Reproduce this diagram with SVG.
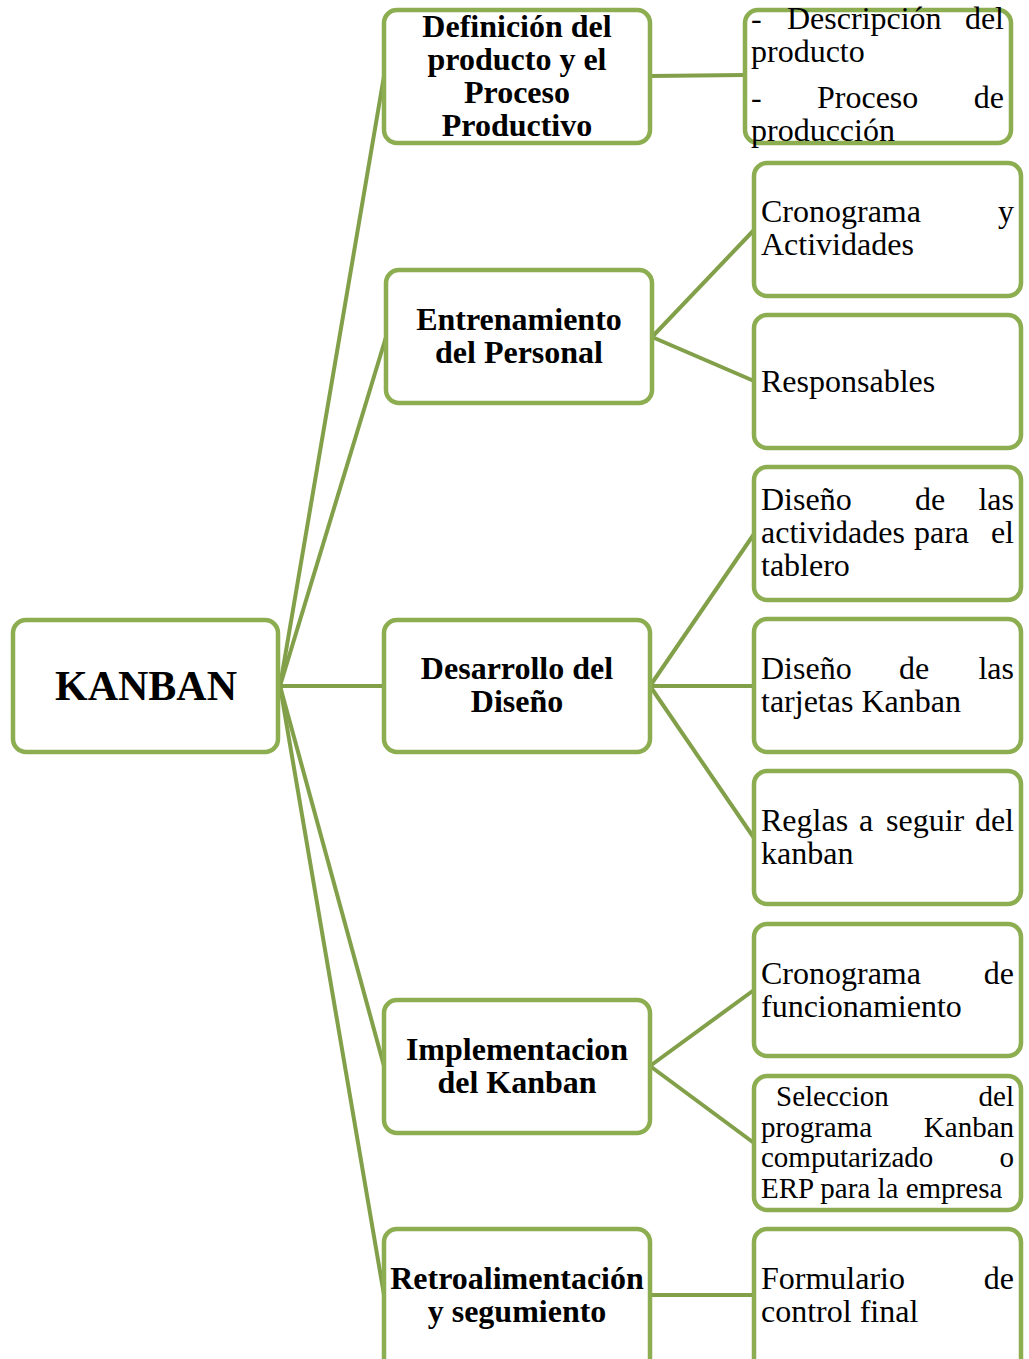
<svg xmlns="http://www.w3.org/2000/svg" width="1029" height="1359" viewBox="0 0 1029 1359">
  <style>
    .box { fill: #ffffff; stroke: #8DAD51; stroke-width: 4.5; }
    .link { stroke: #82A049; stroke-width: 4; fill: none; }
    .hd { font-family: "Liberation Serif", "Times New Roman", serif; font-weight: bold; font-size: 32px; fill: #000; text-anchor: middle; }
    .tx { font-family: "Liberation Serif", "Times New Roman", serif; font-size: 32px; fill: #000; }
    .sm { font-size: 29px; }
    .r { text-anchor: end; }
  </style>
  <rect width="1029" height="1359" fill="#ffffff"/>

  <!-- connectors -->
  <g id="connectors">
    <line class="link" x1="280" y1="686" x2="384" y2="76"/>
    <line class="link" x1="280" y1="686" x2="386" y2="337"/>
    <line class="link" x1="280" y1="686" x2="384" y2="686"/>
    <line class="link" x1="280" y1="686" x2="384" y2="1066"/>
    <line class="link" x1="280" y1="686" x2="384" y2="1295"/>
    <line class="link" x1="650" y1="76" x2="745" y2="75"/>
    <line class="link" x1="652" y1="337" x2="754" y2="230"/>
    <line class="link" x1="652" y1="337" x2="754" y2="381"/>
    <line class="link" x1="650" y1="686" x2="754" y2="534"/>
    <line class="link" x1="650" y1="686" x2="754" y2="686"/>
    <line class="link" x1="650" y1="686" x2="754" y2="838"/>
    <line class="link" x1="650" y1="1066" x2="754" y2="990"/>
    <line class="link" x1="650" y1="1066" x2="754" y2="1143"/>
    <line class="link" x1="650" y1="1295" x2="754" y2="1295"/>
  </g>

  <!-- root -->
  <g id="kanban">
    <rect class="box" x="13" y="620" width="265" height="132" rx="13"/>
    <text x="146" y="700" style="font-family:'Liberation Serif','Times New Roman',serif;font-weight:bold;font-size:42px;text-anchor:middle">KANBAN</text>
  </g>

  <!-- second level -->
  <g id="definicion">
    <rect class="box" x="384" y="10" width="266" height="133" rx="13"/>
    <text class="hd" x="517" y="37">Definición del</text>
    <text class="hd" x="517" y="70">producto y el</text>
    <text class="hd" x="517" y="103">Proceso</text>
    <text class="hd" x="517" y="136">Productivo</text>
  </g>
  <g id="entrenamiento">
    <rect class="box" x="386" y="270" width="266" height="133" rx="13"/>
    <text class="hd" x="519" y="330">Entrenamiento</text>
    <text class="hd" x="519" y="363">del Personal</text>
  </g>
  <g id="desarrollo">
    <rect class="box" x="384" y="620" width="266" height="132" rx="13"/>
    <text class="hd" x="517" y="679">Desarrollo del</text>
    <text class="hd" x="517" y="712">Diseño</text>
  </g>
  <g id="implementacion">
    <rect class="box" x="384" y="1000" width="266" height="133" rx="13"/>
    <text class="hd" x="517" y="1060">Implementacion</text>
    <text class="hd" x="517" y="1093">del Kanban</text>
  </g>
  <g id="retroalimentacion">
    <rect class="box" x="384" y="1229" width="266" height="145" rx="13"/>
    <text class="hd" x="517" y="1289">Retroalimentación</text>
    <text class="hd" x="517" y="1322">y segumiento</text>
  </g>

  <!-- third level -->
  <g id="descripcion">
    <rect class="box" x="745" y="10" width="266" height="133" rx="13"/>
    <text class="tx" x="751" y="29">-</text>
    <text class="tx" x="787" y="29">Descripción</text>
    <text class="tx r" x="1004" y="29">del</text>
    <text class="tx" x="751" y="62">producto</text>
    <text class="tx" x="751" y="108">-</text>
    <text class="tx" x="817" y="108">Proceso</text>
    <text class="tx r" x="1004" y="108">de</text>
    <text class="tx" x="751" y="141">producción</text>
  </g>
  <g id="cronograma-actividades">
    <rect class="box" x="754" y="163" width="267" height="133" rx="13"/>
    <text class="tx" x="761" y="222">Cronograma</text>
    <text class="tx r" x="1014" y="222">y</text>
    <text class="tx" x="761" y="255">Actividades</text>
  </g>
  <g id="responsables">
    <rect class="box" x="754" y="315" width="267" height="133" rx="13"/>
    <text class="tx" x="761" y="392">Responsables</text>
  </g>
  <g id="diseno-actividades">
    <rect class="box" x="754" y="467" width="267" height="133" rx="13"/>
    <text class="tx" x="761" y="510">Diseño</text>
    <text class="tx" x="915" y="510">de</text>
    <text class="tx r" x="1014" y="510">las</text>
    <text class="tx" x="761" y="543">actividades</text>
    <text class="tx" x="914" y="543">para</text>
    <text class="tx r" x="1014" y="543">el</text>
    <text class="tx" x="761" y="576">tablero</text>
  </g>
  <g id="diseno-tarjetas">
    <rect class="box" x="754" y="619" width="267" height="133" rx="13"/>
    <text class="tx" x="761" y="679">Diseño</text>
    <text class="tx" x="899" y="679">de</text>
    <text class="tx r" x="1014" y="679">las</text>
    <text class="tx" x="761" y="712">tarjetas Kanban</text>
  </g>
  <g id="reglas">
    <rect class="box" x="754" y="771" width="267" height="133" rx="13"/>
    <text class="tx" x="761" y="831">Reglas</text>
    <text class="tx" x="859" y="831">a</text>
    <text class="tx" x="886" y="831">seguir</text>
    <text class="tx r" x="1014" y="831">del</text>
    <text class="tx" x="761" y="864">kanban</text>
  </g>
  <g id="cronograma-funcionamiento">
    <rect class="box" x="754" y="924" width="267" height="132" rx="13"/>
    <text class="tx" x="761" y="984">Cronograma</text>
    <text class="tx r" x="1014" y="984">de</text>
    <text class="tx" x="761" y="1017">funcionamiento</text>
  </g>
  <g id="seleccion">
    <rect class="box" x="754" y="1076" width="267" height="134" rx="13"/>
    <text class="tx sm" x="776" y="1106">Seleccion</text>
    <text class="tx sm r" x="1014" y="1106">del</text>
    <text class="tx sm" x="761" y="1137">programa</text>
    <text class="tx sm r" x="1014" y="1137">Kanban</text>
    <text class="tx sm" x="761" y="1167">computarizado</text>
    <text class="tx sm r" x="1014" y="1167">o</text>
    <text class="tx sm" x="761" y="1198">ERP para la empresa</text>
  </g>
  <g id="formulario">
    <rect class="box" x="754" y="1229" width="267" height="145" rx="13"/>
    <text class="tx" x="761" y="1289">Formulario</text>
    <text class="tx r" x="1014" y="1289">de</text>
    <text class="tx" x="761" y="1322">control final</text>
  </g>
</svg>
